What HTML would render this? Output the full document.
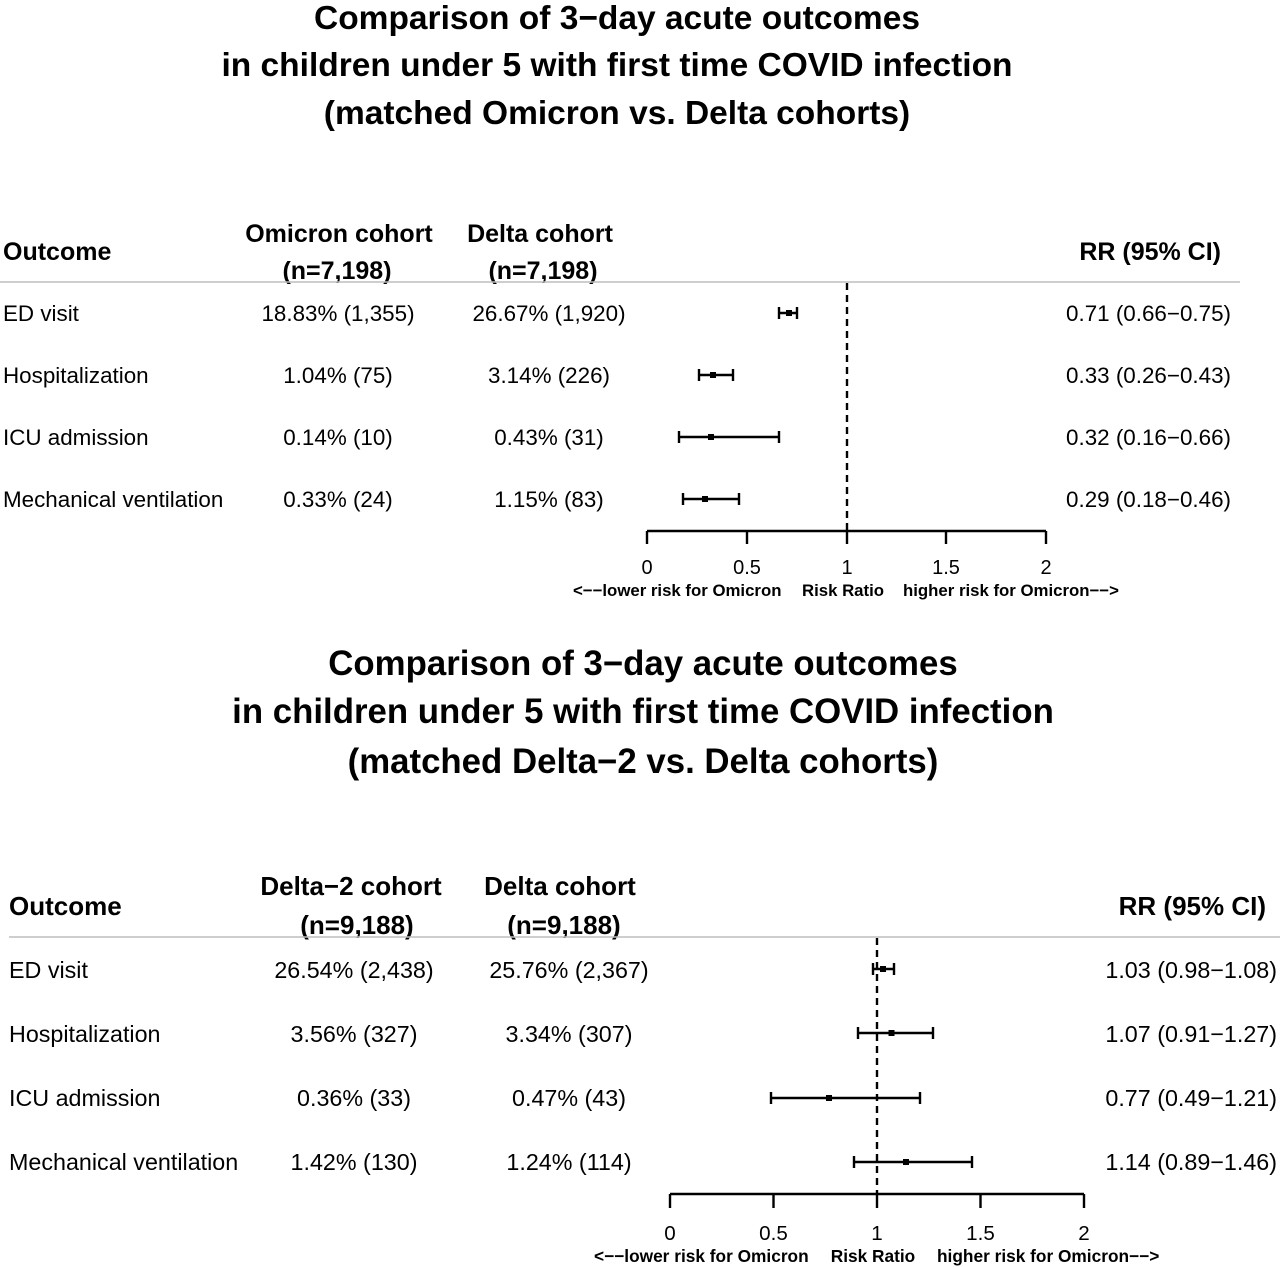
<!DOCTYPE html>
<html><head><meta charset="utf-8"><style>
html,body{margin:0;padding:0;background:#fff;}
svg{display:block;}
text{font-family:"Liberation Sans",Arial,sans-serif;fill:#000;}
</style></head><body>
<svg width="1280" height="1267" viewBox="0 0 1280 1267" xmlns="http://www.w3.org/2000/svg">
<!-- TOP PANEL -->
<g font-size="33.5" text-anchor="middle" font-weight="bold">
<text x="617" y="29">Comparison of 3−day acute outcomes</text>
<text x="617" y="76">in children under 5 with first time COVID infection</text>
<text x="617" y="124">(matched Omicron vs. Delta cohorts)</text>
</g>
<g font-size="25" font-weight="bold">
<text x="3" y="260">Outcome</text>
<text x="339" y="242" text-anchor="middle">Omicron cohort</text>
<text x="337" y="279" text-anchor="middle">(n=7,198)</text>
<text x="540" y="242" text-anchor="middle">Delta cohort</text>
<text x="543" y="279" text-anchor="middle">(n=7,198)</text>
<text x="1221" y="260" text-anchor="end">RR (95% CI)</text>
</g>
<line x1="0" y1="282" x2="1240" y2="282" stroke="#bdbdbd" stroke-width="1.5"/>
<g font-size="22.4">
<text x="3" y="321">ED visit</text>
<text x="3" y="383">Hospitalization</text>
<text x="3" y="445">ICU admission</text>
<text x="3" y="507">Mechanical ventilation</text>
<g text-anchor="middle">
<text x="338" y="321">18.83% (1,355)</text>
<text x="338" y="383">1.04% (75)</text>
<text x="338" y="445">0.14% (10)</text>
<text x="338" y="507">0.33% (24)</text>
<text x="549" y="321">26.67% (1,920)</text>
<text x="549" y="383">3.14% (226)</text>
<text x="549" y="445">0.43% (31)</text>
<text x="549" y="507">1.15% (83)</text>
</g>
<g text-anchor="end">
<text x="1231" y="321">0.71 (0.66−0.75)</text>
<text x="1231" y="383">0.33 (0.26−0.43)</text>
<text x="1231" y="445">0.32 (0.16−0.66)</text>
<text x="1231" y="507">0.29 (0.18−0.46)</text>
</g>
</g>
<line x1="847" y1="283" x2="847" y2="531" stroke="#000" stroke-width="2.4" stroke-dasharray="7,5"/>
<g stroke="#000" stroke-width="2.4" fill="none">
<path d="M647 531 H1046 M647 531 V544 M747 531 V544 M847 531 V544 M946 531 V544 M1046 531 V544"/>
<path d="M779 313 H797 M779 307 V319 M797 307 V319"/>
<path d="M699 375 H733 M699 369 V381 M733 369 V381"/>
<path d="M679 437 H779 M679 431 V443 M779 431 V443"/>
<path d="M683 499 H739 M683 493 V505 M739 493 V505"/>
</g>
<g fill="#000">
<rect x="786" y="310" width="6" height="6"/>
<rect x="710" y="372" width="6" height="6"/>
<rect x="708" y="434" width="6" height="6"/>
<rect x="702" y="496" width="6" height="6"/>
</g>
<g font-size="20" text-anchor="middle">
<text x="647" y="574">0</text>
<text x="747" y="574">0.5</text>
<text x="847" y="574">1</text>
<text x="946" y="574">1.5</text>
<text x="1046" y="574">2</text>
</g>
<g font-size="16.8" font-weight="bold">
<text x="573" y="596">&lt;−−lower risk for Omicron</text>
<text x="843" y="596" text-anchor="middle">Risk Ratio</text>
<text x="903" y="596">higher risk for Omicron−−&gt;</text>
</g>

<!-- BOTTOM PANEL -->
<g font-size="34.8" text-anchor="middle" font-weight="bold">
<text x="643" y="675">Comparison of 3−day acute outcomes</text>
<text x="643" y="723">in children under 5 with first time COVID infection</text>
<text x="643" y="773">(matched Delta−2 vs. Delta cohorts)</text>
</g>
<g font-size="26" font-weight="bold">
<text x="9" y="915">Outcome</text>
<text x="351" y="895" text-anchor="middle">Delta−2 cohort</text>
<text x="357" y="934" text-anchor="middle">(n=9,188)</text>
<text x="560" y="895" text-anchor="middle">Delta cohort</text>
<text x="564" y="934" text-anchor="middle">(n=9,188)</text>
<text x="1266" y="915" text-anchor="end">RR (95% CI)</text>
</g>
<line x1="9" y1="937" x2="1280" y2="937" stroke="#bdbdbd" stroke-width="1.5"/>
<g font-size="23.3">
<text x="9" y="978">ED visit</text>
<text x="9" y="1042">Hospitalization</text>
<text x="9" y="1106">ICU admission</text>
<text x="9" y="1170">Mechanical ventilation</text>
<g text-anchor="middle">
<text x="354" y="978">26.54% (2,438)</text>
<text x="354" y="1042">3.56% (327)</text>
<text x="354" y="1106">0.36% (33)</text>
<text x="354" y="1170">1.42% (130)</text>
<text x="569" y="978">25.76% (2,367)</text>
<text x="569" y="1042">3.34% (307)</text>
<text x="569" y="1106">0.47% (43)</text>
<text x="569" y="1170">1.24% (114)</text>
</g>
<g text-anchor="end">
<text x="1277" y="978">1.03 (0.98−1.08)</text>
<text x="1277" y="1042">1.07 (0.91−1.27)</text>
<text x="1277" y="1106">0.77 (0.49−1.21)</text>
<text x="1277" y="1170">1.14 (0.89−1.46)</text>
</g>
</g>
<line x1="877" y1="938" x2="877" y2="1194" stroke="#000" stroke-width="2.4" stroke-dasharray="7,5"/>
<g stroke="#000" stroke-width="2.4" fill="none">
<path d="M670 1194 H1084 M670 1194 V1208 M773.5 1194 V1208 M877 1194 V1208 M980.5 1194 V1208 M1084 1194 V1208"/>
<path d="M873 969 H894 M873 963 V975 M894 963 V975"/>
<path d="M858 1033 H933 M858 1027 V1039 M933 1027 V1039"/>
<path d="M771 1098 H920 M771 1092 V1104 M920 1092 V1104"/>
<path d="M854 1162 H972 M854 1156 V1168 M972 1156 V1168"/>
</g>
<g fill="#000">
<rect x="880" y="966" width="6" height="6"/>
<rect x="888.5" y="1030" width="6" height="6"/>
<rect x="826" y="1095" width="6" height="6"/>
<rect x="903" y="1159" width="6" height="6"/>
</g>
<g font-size="20.6" text-anchor="middle">
<text x="670" y="1240">0</text>
<text x="773.5" y="1240">0.5</text>
<text x="877" y="1240">1</text>
<text x="980.5" y="1240">1.5</text>
<text x="1084" y="1240">2</text>
</g>
<g font-size="17.3" font-weight="bold">
<text x="594" y="1262">&lt;−−lower risk for Omicron</text>
<text x="873" y="1262" text-anchor="middle">Risk Ratio</text>
<text x="937" y="1262">higher risk for Omicron−−&gt;</text>
</g>
</svg>
</body></html>
